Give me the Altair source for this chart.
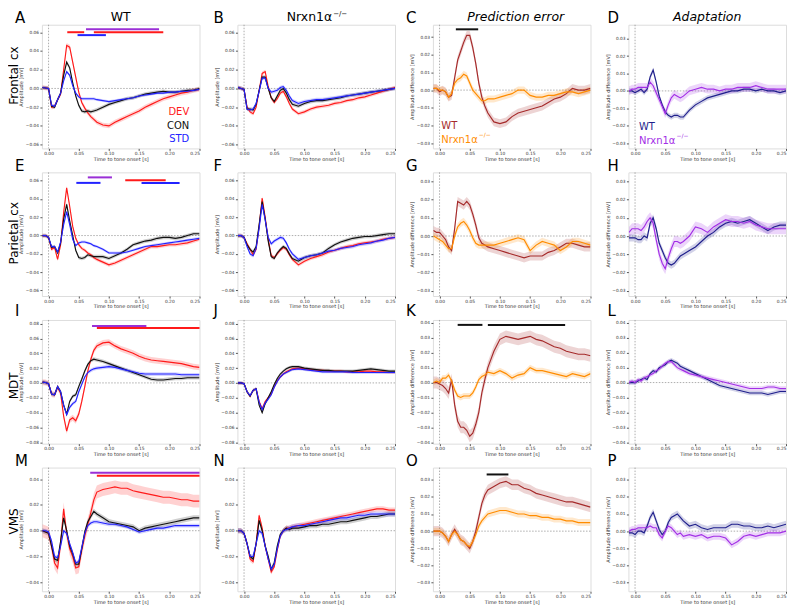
import altair as alt
import pandas as pd

# ---------------- data ----------------
T = [-0.01, -0.005, 0.0, 0.005, 0.01, 0.015, 0.02, 0.025, 0.03, 0.035, 0.04, 0.045,
     0.05, 0.055, 0.06, 0.065, 0.07, 0.075, 0.08, 0.09, 0.10, 0.11, 0.12, 0.13,
     0.14, 0.15, 0.16, 0.17, 0.18, 0.19, 0.20, 0.21, 0.22, 0.23, 0.24, 0.25]

A_DEV = [0.001, 0.0005, 0.0, -0.02, -0.019, -0.012, -0.006, 0.02, 0.046, 0.044, 0.028, 0.012, -0.004, -0.015, -0.021, -0.026, -0.03, -0.033, -0.036, -0.039, -0.04, -0.036, -0.033, -0.03, -0.027, -0.024, -0.02, -0.017, -0.014, -0.011, -0.009, -0.007, -0.005, -0.004, -0.002, -0.001]
A_CON = [0.001, 0.0005, 0.0, -0.019, -0.02, -0.012, -0.005, 0.014, 0.028, 0.022, 0.006, -0.008, -0.018, -0.024, -0.025, -0.024, -0.025, -0.024, -0.023, -0.02, -0.017, -0.015, -0.013, -0.011, -0.01, -0.008, -0.006, -0.005, -0.004, -0.003, -0.004, -0.004, -0.003, -0.002, -0.002, 0.0]
A_STD = [0.001, 0.0005, 0.0, -0.018, -0.019, -0.012, -0.005, 0.008, 0.018, 0.014, 0.003, -0.005, -0.009, -0.011, -0.011, -0.011, -0.011, -0.011, -0.012, -0.013, -0.014, -0.013, -0.012, -0.011, -0.01, -0.008, -0.007, -0.006, -0.005, -0.005, -0.004, -0.004, -0.003, -0.003, -0.002, -0.001]

B_DEV = [0.001, 0.0, -0.001, -0.02, -0.025, -0.027, -0.02, -0.002, 0.016, 0.018, 0.002, -0.01, -0.015, -0.011, -0.005, -0.003, -0.009, -0.016, -0.022, -0.027, -0.025, -0.022, -0.02, -0.019, -0.018, -0.016, -0.015, -0.013, -0.012, -0.01, -0.009, -0.007, -0.005, -0.003, -0.001, 0.001]
B_CON = [0.001, 0.0, -0.001, -0.022, -0.022, -0.023, -0.017, -0.002, 0.012, 0.012, 0.0, -0.01, -0.014, -0.008, -0.002, 0.0, -0.005, -0.012, -0.017, -0.019, -0.016, -0.014, -0.013, -0.013, -0.012, -0.011, -0.01, -0.008, -0.007, -0.006, -0.005, -0.004, -0.003, -0.002, -0.001, 0.0]
B_STD = [0.001, 0.0, -0.001, -0.022, -0.023, -0.022, -0.016, -0.003, 0.011, 0.011, 0.0, -0.004, -0.003, -0.002, 0.001, 0.002, -0.002, -0.008, -0.013, -0.016, -0.014, -0.013, -0.012, -0.012, -0.011, -0.01, -0.009, -0.008, -0.007, -0.006, -0.005, -0.004, -0.003, -0.002, -0.001, 0.0]

C_WT = [0.001, 0.001, -0.001, 0.0, -0.001, -0.004, -0.003, 0.007, 0.017, 0.022, 0.027, 0.031, 0.031, 0.024, 0.015, 0.004, -0.004, -0.009, -0.013, -0.018, -0.019, -0.018, -0.015, -0.013, -0.012, -0.011, -0.01, -0.009, -0.007, -0.005, -0.004, -0.002, 0.001, 0.0, 0.0, 0.001]
C_NRX = [0.001, 0.001, 0.0, 0.0, -0.001, -0.004, -0.002, 0.004, 0.006, 0.007, 0.009, 0.008, 0.004, 0.0, -0.002, -0.004, -0.006, -0.006, -0.005, -0.005, -0.004, -0.003, -0.002, 0.0, 0.0, -0.003, -0.004, -0.004, -0.003, -0.003, -0.002, -0.001, -0.001, -0.002, -0.001, 0.0]

D_WT = [0.0, 0.0, -0.001, 0.0, 0.001, -0.001, 0.001, 0.008, 0.012, 0.005, -0.003, -0.008, -0.012, -0.014, -0.015, -0.014, -0.014, -0.015, -0.015, -0.011, -0.008, -0.006, -0.004, -0.003, -0.002, -0.001, 0.0, 0.0, 0.001, 0.001, 0.0, 0.001, 0.0, 0.0, -0.001, 0.0]
D_NRX = [0.0, 0.001, 0.001, 0.002, 0.002, 0.002, 0.002, 0.005, 0.003, -0.001, -0.005, -0.009, -0.013, -0.008, -0.004, -0.002, -0.003, -0.004, -0.003, 0.0, 0.001, 0.002, 0.001, 0.001, 0.0, 0.001, 0.001, 0.002, 0.002, 0.002, 0.003, 0.002, 0.001, 0.001, 0.001, 0.001]

E_DEV = [0.0, 0.0, -0.002, -0.015, -0.013, -0.026, -0.01, 0.025, 0.052, 0.032, 0.01, -0.003, -0.01, -0.014, -0.016, -0.019, -0.021, -0.024, -0.026, -0.029, -0.032, -0.03, -0.027, -0.024, -0.021, -0.018, -0.015, -0.012, -0.012, -0.011, -0.01, -0.01, -0.009, -0.008, -0.006, -0.004]
E_CON = [0.0, 0.0, -0.002, -0.013, -0.012, -0.019, -0.008, 0.018, 0.034, 0.016, 0.0, -0.016, -0.024, -0.025, -0.024, -0.021, -0.022, -0.023, -0.023, -0.023, -0.025, -0.022, -0.019, -0.015, -0.01, -0.008, -0.006, -0.005, -0.003, -0.002, -0.002, -0.003, -0.002, 0.0, 0.002, 0.002]
E_STD = [0.0, 0.0, -0.002, -0.012, -0.012, -0.018, -0.007, 0.012, 0.026, 0.012, -0.004, -0.011, -0.008, -0.007, -0.007, -0.008, -0.009, -0.011, -0.012, -0.015, -0.019, -0.019, -0.019, -0.018, -0.016, -0.014, -0.012, -0.011, -0.01, -0.009, -0.008, -0.007, -0.006, -0.005, -0.004, -0.003]

F_DEV = [0.0, 0.0, -0.002, -0.009, -0.015, -0.021, -0.015, 0.01, 0.041, 0.02, -0.004, -0.022, -0.024, -0.02, -0.016, -0.013, -0.015, -0.021, -0.026, -0.032, -0.028, -0.025, -0.023, -0.021, -0.018, -0.016, -0.014, -0.012, -0.011, -0.009, -0.008, -0.007, -0.006, -0.004, -0.003, -0.002]
F_CON = [0.0, 0.0, -0.002, -0.01, -0.015, -0.018, -0.012, 0.012, 0.037, 0.018, -0.006, -0.023, -0.025, -0.019, -0.015, -0.012, -0.014, -0.02, -0.025, -0.028, -0.024, -0.022, -0.021, -0.019, -0.014, -0.01, -0.007, -0.005, -0.003, -0.002, -0.001, -0.001, 0.0, 0.001, 0.002, 0.002]
F_STD = [0.0, 0.0, -0.002, -0.012, -0.02, -0.022, -0.014, 0.008, 0.034, 0.017, -0.002, -0.009, -0.006, -0.004, -0.002, -0.003, -0.008, -0.015, -0.02, -0.026, -0.024, -0.022, -0.021, -0.019, -0.017, -0.016, -0.014, -0.013, -0.012, -0.01, -0.009, -0.008, -0.006, -0.005, -0.003, -0.002]

G_WT = [0.003, 0.002, 0.002, 0.0, -0.002, -0.006, -0.008, 0.004, 0.019, 0.018, 0.017, 0.019, 0.017, 0.012, 0.006, -0.001, -0.004, -0.005, -0.006, -0.007, -0.008, -0.009, -0.01, -0.011, -0.012, -0.011, -0.011, -0.011, -0.009, -0.008, -0.006, -0.004, -0.004, -0.005, -0.006, -0.006]
G_NRX = [0.0, -0.001, -0.002, -0.003, -0.005, -0.007, -0.007, 0.0, 0.005, 0.007, 0.008, 0.006, 0.003, -0.001, -0.004, -0.005, -0.005, -0.005, -0.005, -0.005, -0.004, -0.003, -0.002, -0.001, -0.002, -0.008, -0.005, -0.003, -0.004, -0.005, -0.008, -0.006, -0.003, -0.003, -0.004, -0.005]

H_WT = [-0.001, -0.001, -0.001, -0.002, -0.002, 0.0, -0.001, 0.007, 0.01, 0.004, -0.004, -0.008, -0.012, -0.015, -0.016, -0.015, -0.013, -0.011, -0.01, -0.008, -0.006, -0.003, 0.0, 0.002, 0.005, 0.007, 0.008, 0.007, 0.008, 0.009, 0.007, 0.005, 0.003, 0.005, 0.006, 0.006]
H_NRX = [0.002, 0.004, 0.004, 0.004, 0.003, 0.005, 0.008, 0.01, 0.007, -0.002, -0.01, -0.015, -0.018, -0.012, -0.007, -0.003, -0.003, -0.004, -0.003, 0.0, 0.005, 0.004, 0.002, 0.005, 0.007, 0.009, 0.008, 0.008, 0.007, 0.008, 0.006, 0.005, 0.004, 0.004, 0.004, 0.004]

I_DEV = [0.001, 0.0005, -0.001, -0.015, -0.016, -0.006, -0.014, -0.045, -0.065, -0.05, -0.047, -0.051, -0.042, -0.025, -0.005, 0.016, 0.032, 0.044, 0.05, 0.054, 0.055, 0.05, 0.046, 0.043, 0.04, 0.036, 0.033, 0.031, 0.03, 0.029, 0.028, 0.027, 0.026, 0.024, 0.022, 0.021]
I_CON = [0.001, 0.0005, -0.001, -0.015, -0.016, -0.005, -0.012, -0.03, -0.042, -0.025, -0.018, -0.016, -0.005, 0.005, 0.016, 0.025, 0.03, 0.032, 0.031, 0.029, 0.026, 0.023, 0.02, 0.017, 0.014, 0.011, 0.008, 0.005, 0.004, 0.004, 0.005, 0.006, 0.006, 0.007, 0.007, 0.007]
I_STD = [0.001, 0.0005, -0.001, -0.015, -0.016, -0.005, -0.012, -0.03, -0.043, -0.033, -0.028, -0.025, -0.012, -0.002, 0.008, 0.014, 0.017, 0.019, 0.02, 0.021, 0.022, 0.021, 0.019, 0.017, 0.015, 0.013, 0.012, 0.012, 0.012, 0.012, 0.012, 0.012, 0.011, 0.011, 0.011, 0.011]

J_DEV = [0.0, 0.0, -0.001, -0.012, -0.018, -0.01, -0.008, -0.025, -0.035, -0.025, -0.02, -0.015, -0.005, 0.003, 0.008, 0.012, 0.015, 0.017, 0.019, 0.02, 0.019, 0.018, 0.017, 0.017, 0.016, 0.016, 0.016, 0.015, 0.015, 0.015, 0.016, 0.016, 0.015, 0.015, 0.014, 0.014]
J_CON = [0.0, 0.0, -0.001, -0.012, -0.018, -0.01, -0.008, -0.03, -0.04, -0.028, -0.02, -0.012, -0.002, 0.006, 0.012, 0.016, 0.019, 0.021, 0.022, 0.022, 0.02, 0.019, 0.018, 0.017, 0.017, 0.016, 0.016, 0.016, 0.016, 0.017, 0.018, 0.019, 0.018, 0.017, 0.016, 0.016]
J_STD = [0.0, 0.0, -0.001, -0.012, -0.017, -0.01, -0.008, -0.026, -0.036, -0.027, -0.022, -0.016, -0.006, 0.002, 0.008, 0.012, 0.014, 0.016, 0.018, 0.019, 0.018, 0.017, 0.016, 0.015, 0.015, 0.015, 0.015, 0.015, 0.014, 0.014, 0.014, 0.014, 0.014, 0.014, 0.014, 0.014]

K_WT = [0.0, 0.0, -0.001, -0.002, -0.004, -0.007, 0.002, -0.015, -0.026, -0.03, -0.03, -0.032, -0.036, -0.034, -0.028, -0.02, -0.007, 0.002, 0.01, 0.021, 0.029, 0.031, 0.03, 0.029, 0.03, 0.031, 0.029, 0.028, 0.026, 0.024, 0.023, 0.021, 0.02, 0.019, 0.019, 0.018]
K_NRX = [0.0, 0.001, 0.0, 0.003, 0.003, 0.005, 0.001, -0.005, -0.009, -0.01, -0.009, -0.009, -0.009, -0.007, -0.003, 0.002, 0.004, 0.005, 0.007, 0.006, 0.008, 0.006, 0.003, 0.005, 0.006, 0.01, 0.008, 0.008, 0.007, 0.006, 0.005, 0.004, 0.006, 0.005, 0.004, 0.006]

L_WT = [0.0, 0.0, 0.0, 0.001, 0.002, 0.003, 0.002, 0.006, 0.008, 0.007, 0.01, 0.011, 0.012, 0.014, 0.015, 0.014, 0.013, 0.011, 0.01, 0.008, 0.006, 0.004, 0.002, 0.0, -0.002, -0.003, -0.004, -0.005, -0.006, -0.007, -0.007, -0.007, -0.008, -0.007, -0.006, -0.006]
L_NRX = [0.0, 0.001, 0.0, 0.002, 0.001, 0.003, 0.004, 0.005, 0.006, 0.008, 0.009, 0.011, 0.013, 0.014, 0.014, 0.012, 0.01, 0.009, 0.008, 0.006, 0.005, 0.004, 0.003, 0.002, 0.001, 0.0, -0.001, -0.002, -0.003, -0.004, -0.004, -0.004, -0.003, -0.003, -0.004, -0.004]

M_DEV = [0.0, -0.001, -0.002, -0.012, -0.025, -0.029, -0.01, 0.017, -0.002, -0.014, -0.02, -0.029, -0.028, -0.015, -0.004, 0.005, 0.014, 0.024, 0.03, 0.032, 0.033, 0.034, 0.033, 0.033, 0.031, 0.03, 0.029, 0.028, 0.027, 0.026, 0.026, 0.025, 0.024, 0.024, 0.023, 0.023]
M_CON = [0.0, -0.001, -0.002, -0.012, -0.022, -0.023, -0.008, 0.01, 0.0, -0.012, -0.018, -0.026, -0.026, -0.014, -0.001, 0.007, 0.011, 0.015, 0.013, 0.01, 0.007, 0.006, 0.005, 0.004, 0.003, 0.0, 0.002, 0.003, 0.004, 0.005, 0.006, 0.007, 0.008, 0.009, 0.01, 0.01]
M_STD = [0.0, 0.0, -0.001, -0.008, -0.02, -0.021, -0.012, 0.0, -0.002, -0.01, -0.017, -0.025, -0.024, -0.013, -0.002, 0.004, 0.006, 0.007, 0.007, 0.006, 0.005, 0.005, 0.004, 0.003, 0.001, -0.001, 0.0, 0.001, 0.002, 0.002, 0.003, 0.004, 0.004, 0.004, 0.004, 0.004]

N_DEV = [0.0, 0.0, -0.002, -0.01, -0.022, -0.024, -0.01, 0.012, 0.002, -0.012, -0.022, -0.032, -0.028, -0.015, -0.004, 0.0, 0.002, 0.002, 0.003, 0.004, 0.005, 0.006, 0.007, 0.008, 0.009, 0.01, 0.011, 0.012, 0.013, 0.014, 0.015, 0.016, 0.017, 0.017, 0.016, 0.016]
N_CON = [0.0, 0.0, -0.002, -0.01, -0.02, -0.022, -0.01, 0.008, 0.0, -0.012, -0.02, -0.03, -0.025, -0.012, -0.003, 0.0, 0.002, 0.001, 0.002, 0.002, 0.003, 0.004, 0.004, 0.005, 0.005, 0.006, 0.007, 0.007, 0.008, 0.009, 0.01, 0.011, 0.011, 0.012, 0.013, 0.013]
N_STD = [0.0, 0.0, -0.002, -0.01, -0.02, -0.02, -0.01, 0.0, -0.002, -0.012, -0.022, -0.03, -0.026, -0.014, -0.004, 0.0, 0.001, 0.002, 0.003, 0.004, 0.004, 0.005, 0.006, 0.007, 0.008, 0.009, 0.01, 0.01, 0.011, 0.012, 0.012, 0.013, 0.013, 0.013, 0.013, 0.013]

O_WT = [0.0, 0.0, 0.0, -0.001, -0.003, -0.006, -0.002, 0.001, -0.002, -0.005, -0.006, -0.008, -0.01, -0.006, 0.0, 0.008, 0.016, 0.021, 0.024, 0.026, 0.028, 0.029, 0.027, 0.027, 0.025, 0.024, 0.022, 0.021, 0.02, 0.019, 0.018, 0.017, 0.017, 0.016, 0.015, 0.014]
O_NRX = [0.0, 0.0, 0.0, -0.001, -0.003, -0.006, -0.002, 0.0, -0.002, -0.005, -0.006, -0.008, -0.009, -0.006, -0.002, 0.003, 0.006, 0.008, 0.01, 0.011, 0.012, 0.012, 0.011, 0.01, 0.01, 0.009, 0.009, 0.008, 0.008, 0.007, 0.007, 0.006, 0.006, 0.005, 0.005, 0.005]

P_WT = [-0.001, -0.001, -0.002, 0.0, 0.0, -0.001, 0.003, 0.008, 0.011, 0.006, 0.001, -0.002, 0.0, 0.005, 0.008, 0.009, 0.01, 0.008, 0.006, 0.003, 0.004, 0.002, 0.001, 0.002, 0.002, 0.002, 0.004, 0.004, 0.003, 0.003, 0.002, 0.002, 0.003, 0.002, 0.003, 0.004]
P_NRX = [0.0, 0.001, 0.001, 0.002, 0.002, 0.002, 0.002, 0.003, 0.002, 0.002, -0.002, -0.004, 0.0, 0.003, 0.002, 0.0, -0.002, -0.001, -0.003, -0.002, -0.003, -0.002, -0.004, -0.003, -0.003, -0.004, -0.008, -0.006, -0.003, -0.002, -0.003, -0.002, -0.001, -0.001, -0.001, 0.0]

SERIES = {
    "A": [A_DEV, A_CON, A_STD], "B": [B_DEV, B_CON, B_STD], "C": [C_WT, C_NRX], "D": [D_WT, D_NRX],
    "E": [E_DEV, E_CON, E_STD], "F": [F_DEV, F_CON, F_STD], "G": [G_WT, G_NRX], "H": [H_WT, H_NRX],
    "I": [I_DEV, I_CON, I_STD], "J": [J_DEV, J_CON, J_STD], "K": [K_WT, K_NRX], "L": [L_WT, L_NRX],
    "M": [M_DEV, M_CON, M_STD], "N": [N_DEV, N_CON, N_STD], "O": [O_WT, O_NRX], "P": [P_WT, P_NRX],
}
# half-width of the shaded band (s.e.m.) per series
SEM = {
    "A": [0.0025, 0.002, 0.0015], "B": [0.002, 0.002, 0.002], "C": [0.0025, 0.002], "D": [0.0015, 0.0025],
    "E": [0.002, 0.002, 0.0015], "F": [0.002, 0.002, 0.002], "G": [0.0025, 0.002], "H": [0.002, 0.003],
    "I": [0.004, 0.0025, 0.0025], "J": [0.002, 0.002, 0.002], "K": [0.004, 0.002], "L": [0.0015, 0.0015],
    "M": [0.005, 0.002, 0.0015], "N": [0.002, 0.002, 0.002], "O": [0.003, 0.002], "P": [0.002, 0.002],
}

YDOM = {
    "A": [-0.064, 0.068], "B": [-0.064, 0.068], "C": [-0.033, 0.037], "D": [-0.033, 0.038],
    "E": [-0.066, 0.069], "F": [-0.066, 0.069], "G": [-0.033, 0.035], "H": [-0.033, 0.035],
    "I": [-0.082, 0.085], "J": [-0.082, 0.085], "K": [-0.041, 0.042], "L": [-0.041, 0.042],
    "M": [-0.047, 0.049], "N": [-0.047, 0.049], "O": [-0.035, 0.037], "P": [-0.035, 0.037],
}
TICKS_06 = [-0.06, -0.04, -0.02, 0.0, 0.02, 0.04, 0.06]
TICKS_08 = [-0.08, -0.06, -0.04, -0.02, 0.0, 0.02, 0.04, 0.06, 0.08]
TICKS_04 = [-0.04, -0.02, 0.0, 0.02, 0.04]
TICKS_03 = [-0.03, -0.02, -0.01, 0.0, 0.01, 0.02, 0.03]
TICKS_04F = [-0.04, -0.03, -0.02, -0.01, 0.0, 0.01, 0.02, 0.03, 0.04]
YTICKS = {
    "A": TICKS_06, "B": TICKS_06, "C": TICKS_03, "D": TICKS_03,
    "E": TICKS_06, "F": TICKS_06, "G": TICKS_03, "H": TICKS_03,
    "I": TICKS_08, "J": TICKS_08, "K": TICKS_04F, "L": TICKS_04F,
    "M": TICKS_04, "N": TICKS_04, "O": TICKS_03, "P": TICKS_03,
}
X_TICKS = [0.0, 0.05, 0.10, 0.15, 0.20, 0.25]
X_DOM = [-0.011, 0.25]

# significance bars
SIG_PANEL = ["A", "A", "A", "A", "E", "E", "E", "E", "I", "I", "M", "M", "C", "K", "K", "O"]
SIG_START = [0.031, 0.075, 0.062, 0.048, 0.065, 0.046, 0.154, 0.127, 0.072, 0.080, 0.069, 0.080, 0.027, 0.030, 0.080, 0.078]
SIG_END = [0.059, 0.190, 0.183, 0.095, 0.105, 0.086, 0.217, 0.194, 0.162, 0.250, 0.250, 0.250, 0.064, 0.071, 0.208, 0.114]
SIG_LEVEL = [0.060, 0.060, 0.0632, 0.0569, 0.0635, 0.0575, 0.0575, 0.0604, 0.077, 0.074, 0.045, 0.0426, 0.0344, 0.0387, 0.0387, 0.033]
SIG_KIND = ["red", "red", "purple", "blue", "purple", "blue", "blue", "red", "purple", "red", "purple", "red", "black", "black", "black", "black"]

# in-panel legend labels
LEG_PANEL = ["A", "A", "A", "C", "C", "D", "D"]
LEG_T = [0.233, 0.233, 0.233, 0.003, 0.003, 0.0065, 0.0065]
LEG_V = [-0.0256, -0.0397, -0.0537, -0.0202, -0.0281, -0.021, -0.0285]
LEG_TEXT = ["DEV", "CON", "STD", "WT", "Nrxn1α", "WT", "Nrxn1α"]
LEG_KIND = ["dev", "con", "std", "wtpe", "nrxpe", "wtad", "nrxad"]
LEG_ALIGN = ["right", "right", "right", "left", "left", "left", "left"]

ROW_LABELS = ["Frontal cx", "Parietal cx", "MDT", "VMS"]
COL_HEADERS = ["WT", "Nrxn1α", "Prediction error", "Adaptation"]
Y_TITLES = ["Amplitude [mV]", "Amplitude [mV]", "Amplitude difference [mV]", "Amplitude difference [mV]"]

# ---------------- style ----------------
FONT = "DejaVu Sans"
W, H = 158, 124
PALETTE = {
    "dev": "#ff1a1a", "con": "#111111", "std": "#2222ff",
    "wtpe": "#a52a2a", "nrxpe": "#ff8c00", "wtad": "#1f1f8c", "nrxad": "#a22ee6",
    "red": "#ff1a1a", "blue": "#2222ff", "purple": "#9a2fd6", "black": "#111111",
}
KINDS = [["dev", "con", "std"], ["dev", "con", "std"], ["wtpe", "nrxpe"], ["wtad", "nrxad"]]
LETTER_DX = [-27, -24, -27, -21]
LETTER_BASE = [-2, -1, -4, -2]
ROW_MID = [51, 61, 66, 54]

one = pd.DataFrame({"k": [0]})


def make_panel(idx, key):
    r, c = divmod(idx, 4)
    xs = alt.Scale(domain=X_DOM, nice=False, zero=False)
    ys = alt.Scale(domain=YDOM[key], nice=False, zero=False)
    xaxis = alt.Axis(values=X_TICKS, format=".2f", title="Time to tone onset [s]",
                     labelFontSize=4.4, titleFontSize=5, tickSize=2, labelPadding=1,
                     titlePadding=1.5, domain=False, grid=False, tickColor="#555",
                     labelColor="#333", titleColor="#333", titleFontWeight="normal",
                     labelFont=FONT, titleFont=FONT)
    yaxis = alt.Axis(values=YTICKS[key], format=".2f", title=Y_TITLES[c],
                     labelFontSize=4.3, titleFontSize=5, tickSize=2, labelPadding=1.5,
                     titlePadding=1.5, domain=False, grid=False, tickColor="#555",
                     labelColor="#333", titleColor="#333", titleFontWeight="normal",
                     labelFont=FONT, titleFont=FONT)

    def X(f):
        return alt.X(f, scale=xs, axis=xaxis)

    def Y(f):
        return alt.Y(f, scale=ys, axis=yaxis)

    rows = []
    for s, (vals, kind, sem) in enumerate(zip(SERIES[key], KINDS[c], SEM[key])):
        for t, v in zip(T, vals):
            rows.append({"t": t, "v": v, "lo": v - sem, "hi": v + sem,
                         "s": kind, "col": PALETTE[kind], "o": s})
    df = pd.DataFrame(rows)

    layers = []
    zero = pd.DataFrame({"z": [0.0]})
    layers.append(alt.Chart(zero).mark_rule(color="#8a8a8a", strokeWidth=0.7, strokeDash=[1.5, 1.5])
                  .encode(y=Y("z:Q")))
    layers.append(alt.Chart(zero).mark_rule(color="#8a8a8a", strokeWidth=0.7, strokeDash=[1.5, 1.5])
                  .encode(x=X("z:Q")))
    layers.append(alt.Chart(df).mark_area(opacity=0.2, clip=True).encode(
        x=X("t:Q"), y=Y("lo:Q"), y2="hi:Q",
        color=alt.Color("col:N", scale=None), detail="s:N"))
    layers.append(alt.Chart(df).mark_line(strokeWidth=1.15, clip=True).encode(
        x=X("t:Q"), y=Y("v:Q"), color=alt.Color("col:N", scale=None),
        detail="s:N", order="t:Q"))

    sig = pd.DataFrame({"p": SIG_PANEL, "t0": SIG_START, "t1": SIG_END, "lv": SIG_LEVEL,
                        "col": [PALETTE[k] for k in SIG_KIND]})
    sig = sig[sig.p == key]
    if len(sig):
        layers.append(alt.Chart(sig).mark_rule(strokeWidth=2).encode(
            x=X("t0:Q"), x2="t1:Q", y=Y("lv:Q"), color=alt.Color("col:N", scale=None)))

    leg = pd.DataFrame({"p": LEG_PANEL, "t": LEG_T, "v": LEG_V, "txt": LEG_TEXT,
                        "col": [PALETTE[k] for k in LEG_KIND], "al": LEG_ALIGN})
    leg = leg[leg.p == key]
    for _, row in leg.iterrows():
        d = pd.DataFrame([row])
        layers.append(alt.Chart(d).mark_text(font=FONT, fontSize=10, baseline="middle",
                                             align=row["al"], color=row["col"], text=row["txt"])
                      .encode(x=X("t:Q"), y=Y("v:Q")))
        if row["txt"] == "Nrxn1α":
            layers.append(alt.Chart(d).mark_text(font=FONT, fontSize=6, baseline="middle",
                                                 align="left", color=row["col"], text="−/−",
                                                 dx=37.5, dy=-5)
                          .encode(x=X("t:Q"), y=Y("v:Q")))

    # panel letter
    layers.append(alt.Chart(one).mark_text(font=FONT, fontSize=15, align="left",
                                           baseline="alphabetic", color="black", text=key)
                  .encode(x=alt.value(LETTER_DX[c]), y=alt.value(LETTER_BASE[r])))
    if r == 0:
        hdr = COL_HEADERS[c]
        if c == 1:
            layers.append(alt.Chart(one).mark_text(font=FONT, fontSize=12.5, align="right",
                                                   baseline="alphabetic", color="black", text=hdr)
                          .encode(x=alt.value(95), y=alt.value(-4)))
            layers.append(alt.Chart(one).mark_text(font=FONT, fontSize=7, align="left",
                                                   baseline="alphabetic", color="black", text="−/−")
                          .encode(x=alt.value(96), y=alt.value(-9)))
        else:
            layers.append(alt.Chart(one).mark_text(font=FONT, fontSize=12.5, align="center",
                                                   baseline="alphabetic", color="black", text=hdr,
                                                   fontStyle="italic" if c >= 2 else "normal")
                          .encode(x=alt.value(W / 2 + (4 if c == 2 else 0)), y=alt.value(-4)))
    if c == 0:
        layers.append(alt.Chart(one).mark_text(font=FONT, fontSize=12, align="center",
                                               baseline="alphabetic", angle=270, color="black",
                                               text=ROW_LABELS[r])
                      .encode(x=alt.value(-23.5), y=alt.value(ROW_MID[r])))

    return alt.layer(*layers).properties(width=W, height=H)


panels = [make_panel(i, k) for i, k in enumerate("ABCDEFGHIJKLMNOP")]

chart = alt.concat(*panels, columns=4, spacing={"row": 24, "column": 38}, bounds="flush").resolve_scale(
    x="independent", y="independent"
).properties(padding=0).configure_view(stroke="#9a9a9a", strokeWidth=0.8).configure(background="white")

chart.save("out.html", embed_options={"renderer": "svg", "actions": False})
